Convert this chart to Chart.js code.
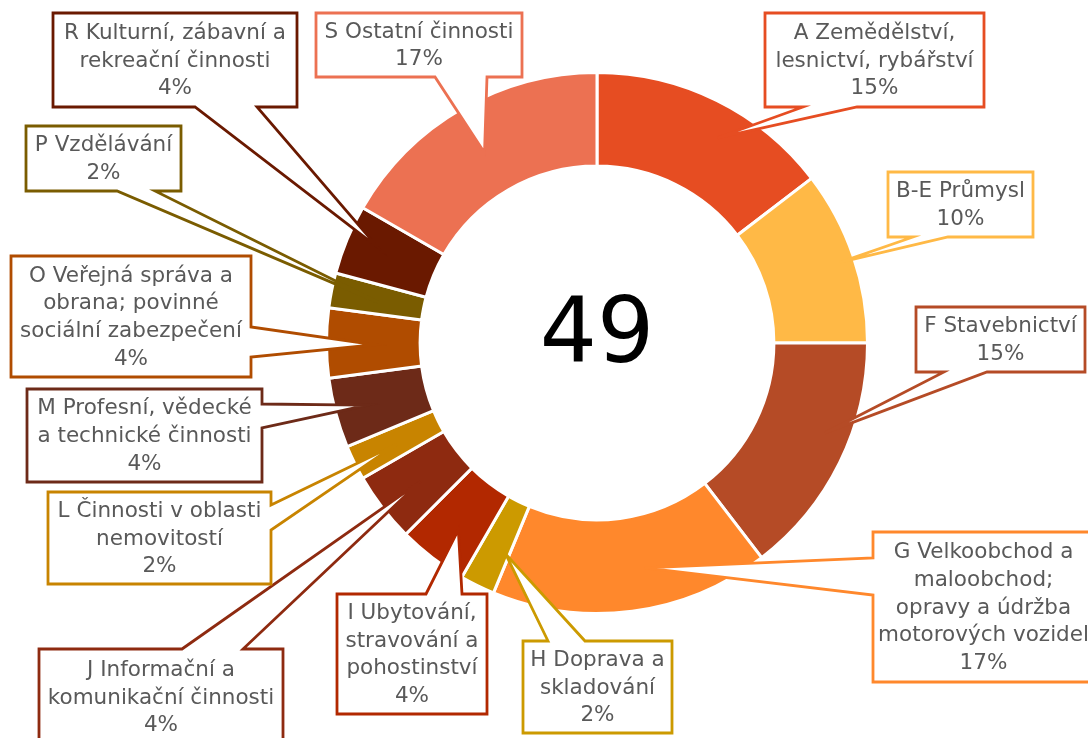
<!DOCTYPE html>
<html>
<head>
<meta charset="utf-8">
<script src="https://cdn.jsdelivr.net/npm/chart.js@4.4.1/dist/chart.umd.min.js"></script>
<style>
  body { margin: 0; background: #fff; }
  #wrap { width: 1088px; height: 738px; }
</style>
</head>
<body>
<div id="wrap"><canvas id="myChart" width="1088" height="738"></canvas></div>
<script>
// data
const categories = [
  "A Zemědělství,\nlesnictví, rybářství",
  "B-E Průmysl",
  "F Stavebnictví",
  "G Velkoobchod a\nmaloobchod;\nopravy a údržba\nmotorových vozidel",
  "H Doprava a\nskladování",
  "I Ubytování,\nstravování a\npohostinství",
  "J Informační a\nkomunikační činnosti",
  "L Činnosti v oblasti\nnemovitostí",
  "M Profesní, vědecké\na technické činnosti",
  "O Veřejná správa a\nobrana; povinné\nsociální zabezpečení",
  "P Vzdělávání",
  "R Kulturní, zábavní a\nrekreační činnosti",
  "S Ostatní činnosti",
];
const counts = [7, 5, 7, 8, 1, 2, 2, 1, 2, 2, 1, 2, 8];
const colors = [
  "#E64D22", "#FFB946", "#B54B26", "#FF882C", "#CC9A00", "#B22800", "#8E2A10",
  "#C88400", "#6D2A18", "#B04C00", "#7A5C00", "#6A1900", "#EC7152",
];
const centerText = "49";

// callout boxes: [x1, y1, x2, y2], side of the pointer, pointer base, pointer tip inside slice
const callouts = [
  { box: [765, 13, 984, 107], side: "bottom", a: 803, b: 857, frac: 0.58, rf: 0.88 },
  { box: [888, 172, 1033, 237], side: "bottom", a: 913, b: 948, frac: 0.51, rf: 0.946 },
  { box: [916, 307, 1085, 372], side: "bottom", a: 944, b: 987, frac: 0.41, rf: 0.906 },
  { box: [873, 532, 1094, 682], side: "left", a: 558, b: 595, frac: 0.425, rf: 0.85 },
  { box: [523, 641, 672, 733], side: "top", a: 548, b: 585, frac: 0.12, rf: 0.85 },
  { box: [337, 594, 487, 714], side: "top", a: 426, b: 462, frac: 0.44, rf: 0.86 },
  { box: [39, 649, 283, 745], side: "top", a: 182, b: 243, frac: 0.46, rf: 0.83 },
  { box: [48, 492, 271, 584], side: "right", a: 505, b: 530, frac: 0.43, rf: 0.83 },
  { box: [27, 389, 262, 482], side: "right", a: 404, b: 428, frac: 0.49, rf: 0.88 },
  { box: [11, 256, 251, 377], side: "right", a: 327, b: 357, frac: 0.47, rf: 0.82 },
  { box: [26, 126, 181, 191], side: "bottom", a: 117, b: 155, frac: 0.41, rf: 0.824 },
  { box: [53, 13, 297, 107], side: "bottom", a: 195, b: 257, frac: 0.57, rf: 0.884 },
  { box: [316, 13, 522, 77], side: "bottom", a: 435, b: 487, frac: 0.49, rf: 0.817 },
];

const FONT = '"DejaVu Sans", sans-serif';
const total = counts.reduce((s, v) => s + v, 0);

function drawCallout(ctx, c, tip, color) {
  const [x1, y1, x2, y2] = c.box;
  ctx.beginPath();
  ctx.moveTo(x1, y1);
  if (c.side === "top") {
    ctx.lineTo(c.a, y1); ctx.lineTo(tip.x, tip.y); ctx.lineTo(c.b, y1);
  }
  ctx.lineTo(x2, y1);
  if (c.side === "right") {
    ctx.lineTo(x2, c.a); ctx.lineTo(tip.x, tip.y); ctx.lineTo(x2, c.b);
  }
  ctx.lineTo(x2, y2);
  if (c.side === "bottom") {
    ctx.lineTo(c.b, y2); ctx.lineTo(tip.x, tip.y); ctx.lineTo(c.a, y2);
  }
  ctx.lineTo(x1, y2);
  if (c.side === "left") {
    ctx.lineTo(x1, c.b); ctx.lineTo(tip.x, tip.y); ctx.lineTo(x1, c.a);
  }
  ctx.closePath();
  ctx.fillStyle = "#fff";
  ctx.fill();
  ctx.lineWidth = 2.8;
  ctx.lineJoin = "miter";
  ctx.strokeStyle = color;
  ctx.stroke();
}

const calloutPlugin = {
  id: "callouts",
  afterDraw(chart) {
    const ctx = chart.ctx;
    const meta = chart.getDatasetMeta(0);
    ctx.save();
    meta.data.forEach((arc, i) => {
      const p = arc.getProps(["x", "y", "startAngle", "endAngle", "outerRadius"], true);
      const c = callouts[i];
      const ang = p.startAngle + c.frac * (p.endAngle - p.startAngle);
      const r = c.rf * p.outerRadius;
      const tip = { x: p.x + Math.cos(ang) * r, y: p.y + Math.sin(ang) * r };
      drawCallout(ctx, c, tip, colors[i]);

      const lines = categories[i].split("\n");
      lines.push(Math.round((counts[i] / total) * 100) + "%");
      const [x1, y1, x2, y2] = c.box;
      const cx = (x1 + x2) / 2;
      const lh = 27.7;
      const cy = (y1 + y2) / 2 - ((lines.length - 1) * lh) / 2;
      ctx.fillStyle = "#595959";
      ctx.font = "21.5px " + FONT;
      ctx.textAlign = "center";
      ctx.textBaseline = "middle";
      lines.forEach((t, k) => ctx.fillText(t, cx, cy + k * lh + 1));
    });

    const a0 = meta.data[0];
    ctx.fillStyle = "#000";
    ctx.font = "90px " + FONT;
    ctx.textAlign = "center";
    ctx.textBaseline = "middle";
    ctx.fillText(centerText, a0.x, a0.y - 4);
    ctx.restore();
  },
};

const config = {
  type: "doughnut",
  data: {
    labels: categories,
    datasets: [
      {
        data: counts,
        backgroundColor: colors,
        borderColor: "#fff",
        borderWidth: 3,
      },
    ],
  },
  options: {
    responsive: false,
    animation: false,
    cutout: "65.4%",
    layout: { padding: { left: 325, top: 71, right: 219, bottom: 123 } },
    plugins: {
      legend: { display: false },
      tooltip: { enabled: false },
    },
  },
  plugins: [calloutPlugin],
};

var myChart = new Chart(document.getElementById("myChart"), config);
</script>
</body>
</html>
